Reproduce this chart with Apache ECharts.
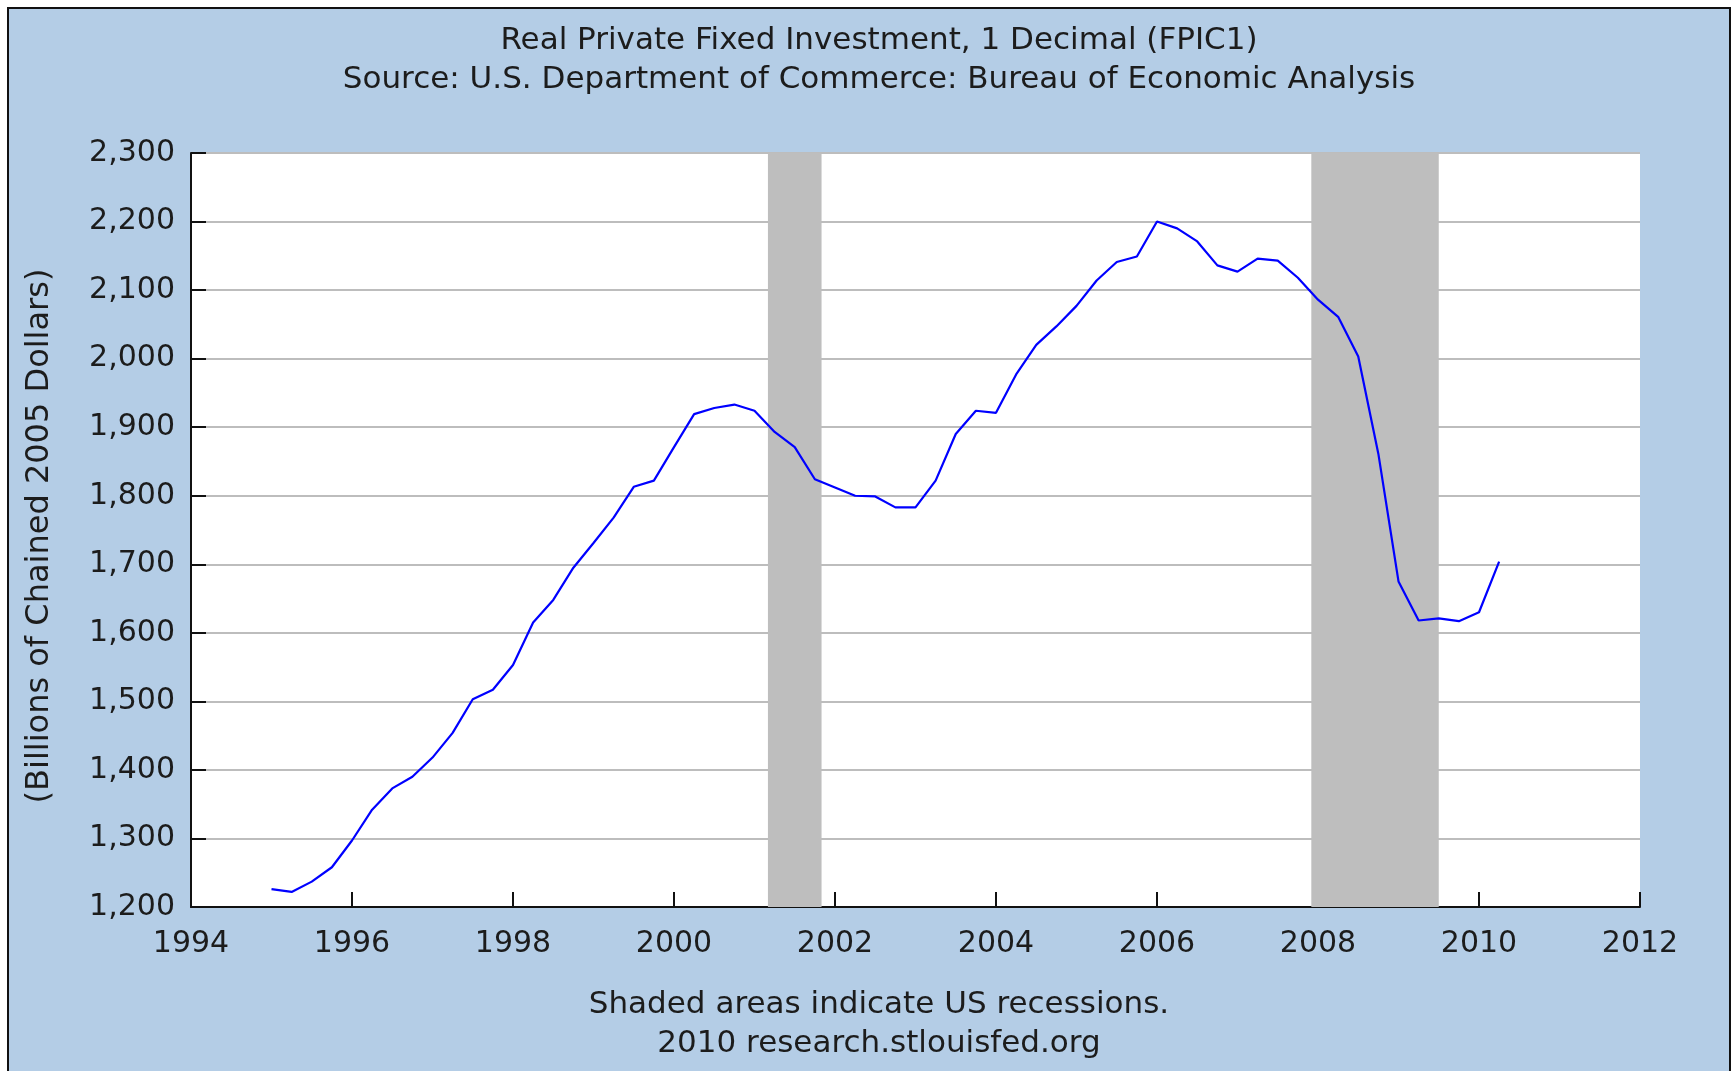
<!DOCTYPE html>
<html>
<head>
<meta charset="utf-8">
<title>Real Private Fixed Investment</title>
<script src="https://cdn.jsdelivr.net/npm/echarts@6.0.0/dist/echarts.min.js"></script>
<style>
  html, body { margin: 0; padding: 0; background: #fff; overflow: hidden; }
  #frame {
    position: absolute;
    left: 7px;
    top: 7px;
    width: 1720px;
    height: 1080px;
    border: 2px solid #111;
    background: #b4cde6;
  }
  #chart { width: 1720px; height: 1062px; }
</style>
</head>
<body>
<div id="frame"><div id="chart"></div></div>
<script>
// quarterly observations, billions of chained 2005 dollars
const quarters = [
  '1995Q1', '1995Q2', '1995Q3', '1995Q4', '1996Q1', '1996Q2', '1996Q3', '1996Q4',
  '1997Q1', '1997Q2', '1997Q3', '1997Q4', '1998Q1', '1998Q2', '1998Q3', '1998Q4',
  '1999Q1', '1999Q2', '1999Q3', '1999Q4', '2000Q1', '2000Q2', '2000Q3', '2000Q4',
  '2001Q1', '2001Q2', '2001Q3', '2001Q4', '2002Q1', '2002Q2', '2002Q3', '2002Q4',
  '2003Q1', '2003Q2', '2003Q3', '2003Q4', '2004Q1', '2004Q2', '2004Q3', '2004Q4',
  '2005Q1', '2005Q2', '2005Q3', '2005Q4', '2006Q1', '2006Q2', '2006Q3', '2006Q4',
  '2007Q1', '2007Q2', '2007Q3', '2007Q4', '2008Q1', '2008Q2', '2008Q3', '2008Q4',
  '2009Q1', '2009Q2', '2009Q3', '2009Q4', '2010Q1', '2010Q2'
]
const investment = [
  1226, 1222, 1237, 1258, 1297, 1342, 1373, 1390,
  1418, 1454, 1503, 1517, 1553, 1615, 1648, 1695,
  1731, 1768, 1813, 1822, 1871, 1919, 1928, 1933,
  1924, 1893, 1871, 1824, 1812, 1800, 1799, 1783,
  1783, 1822, 1890, 1924, 1921, 1977, 2020, 2047,
  2077, 2114, 2141, 2149, 2200, 2190, 2171, 2136,
  2127, 2146, 2143, 2118, 2086, 2061, 2003, 1861,
  1675, 1618, 1621, 1617, 1630, 1704
]
// recession periods as decimal years (Mar-Nov 2001, Dec 2007-Jun 2009)
const recessions = [
  [2001.167, 2001.833],
  [2007.917, 2009.5]
]
const yearTicks = [1994, 1996, 1998, 2000, 2002, 2004, 2006, 2008, 2010, 2012]
const valueTicks = [1200, 1300, 1400, 1500, 1600, 1700, 1800, 1900, 2000, 2100, 2200, 2300]

const toYear = q => Number(q.slice(0, 4)) + (Number(q.slice(5)) - 1) / 4
const seriesData = quarters.map((q, i) => [toYear(q), investment[i]])

const font = 'DejaVu Sans'
const fontSize = 30
const textColor = '#1c1c1c'
const plainText = { fontFamily: font, fontSize: 31, fontWeight: 'normal', color: textColor }

const chart = echarts.init(document.getElementById('chart'))
const option = {
  backgroundColor: '#b4cde6',
  animation: false,
  textStyle: { fontFamily: font },
  title: [
    {
      text: 'Real Private Fixed Investment, 1 Decimal (FPIC1)',
      left: 865,
      top: 11,
      textAlign: 'center',
      textStyle: plainText
    },
    {
      text: 'Source: U.S. Department of Commerce: Bureau of Economic Analysis',
      left: 865,
      top: 50,
      textAlign: 'center',
      textStyle: plainText
    },
    {
      text: 'Shaded areas indicate US recessions.',
      left: 865,
      top: 975,
      textAlign: 'center',
      textStyle: plainText
    },
    {
      text: '2010 research.stlouisfed.org',
      left: 865,
      top: 1014,
      textAlign: 'center',
      textStyle: plainText
    }
  ],
  grid: {
    left: 182,
    right: 89,
    top: 144,
    bottom: 164,
    show: true,
    backgroundColor: '#ffffff',
    borderWidth: 0
  },
  xAxis: {
    type: 'value',
    min: yearTicks[0],
    max: yearTicks[yearTicks.length - 1],
    interval: 2,
    axisLine: { lineStyle: { color: '#111', width: 2 } },
    axisTick: { inside: true, length: 15, lineStyle: { color: '#111', width: 2 } },
    axisLabel: { fontSize: fontSize, color: textColor, margin: 22, fontFamily: font, formatter: v => String(v) },
    splitLine: { show: false }
  },
  yAxis: {
    type: 'value',
    min: valueTicks[0],
    max: valueTicks[valueTicks.length - 1],
    interval: 100,
    name: '(Billions of Chained 2005 Dollars)',
    nameLocation: 'middle',
    nameRotate: 90,
    nameGap: 135,
    nameTextStyle: { fontSize: 32, color: textColor, fontFamily: font, padding: [0, 12, 0, 0] },
    axisLine: { show: true, lineStyle: { color: '#111', width: 2 } },
    axisTick: { show: true, inside: true, length: 15, lineStyle: { color: '#111', width: 2 } },
    axisLabel: {
      fontSize: fontSize,
      color: textColor,
      margin: 16,
      fontFamily: font,
      formatter: v => v.toLocaleString('en-US')
    },
    splitLine: { show: true, lineStyle: { color: '#bdbdbd', width: 2 } }
  },
  series: [
    {
      type: 'line',
      data: seriesData,
      showSymbol: false,
      lineStyle: { color: '#0000ff', width: 2.2 },
      itemStyle: { color: '#0000ff' },
      markArea: {
        silent: true,
        itemStyle: { color: '#bebebe' },
        data: recessions.map(r => [{ xAxis: r[0] }, { xAxis: r[1] }])
      }
    }
  ]
}
chart.setOption(option)
</script>
</body>
</html>
